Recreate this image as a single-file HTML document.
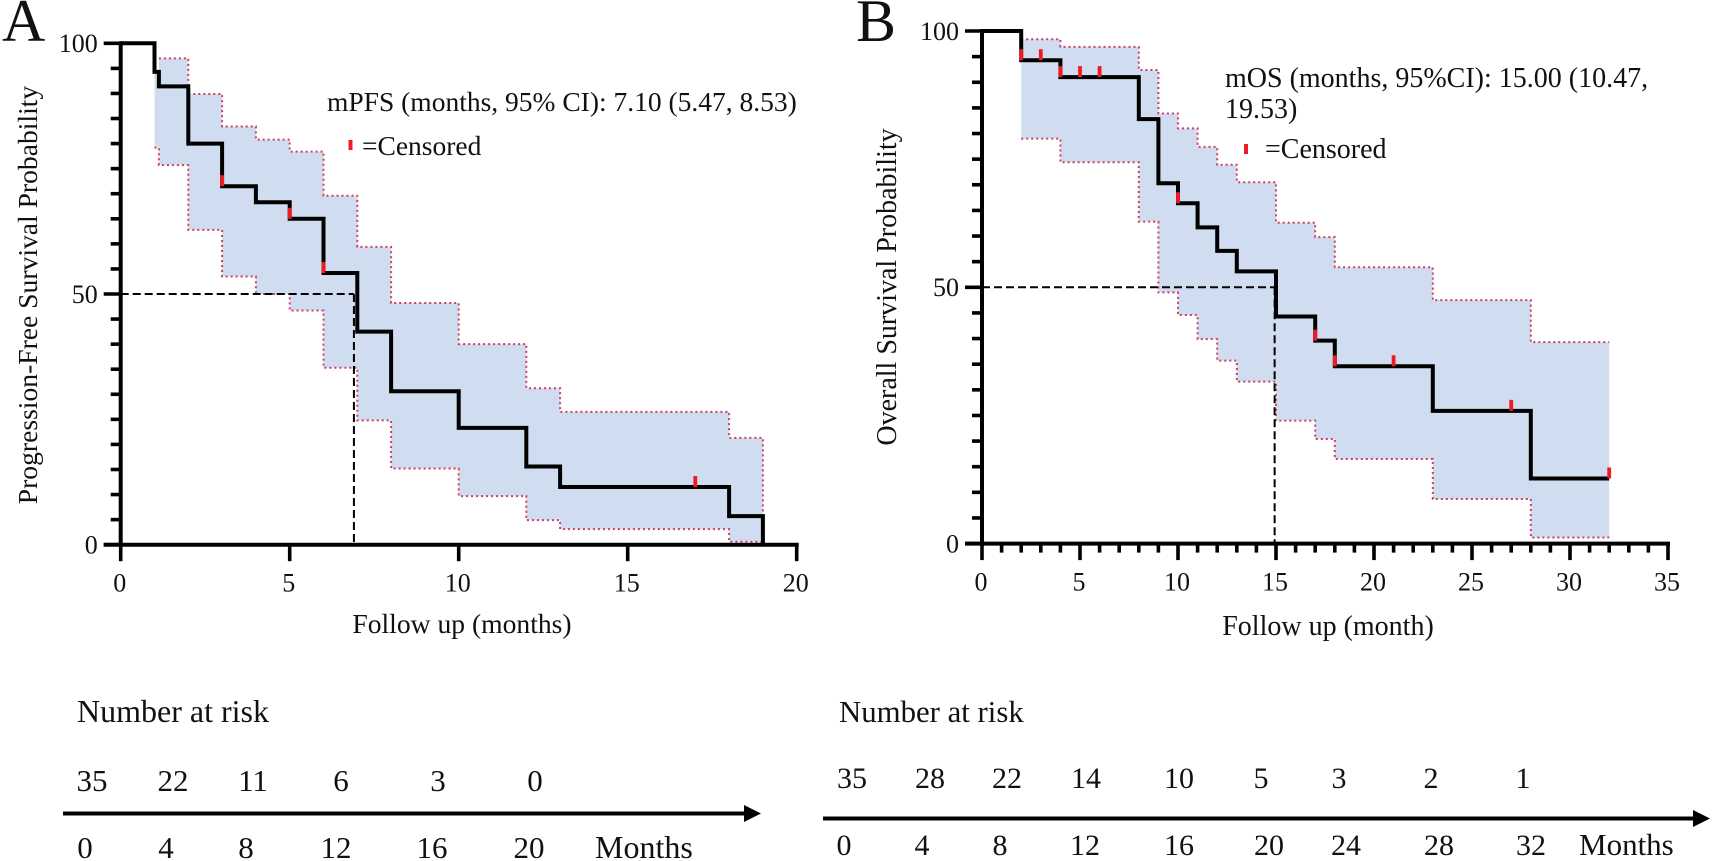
<!DOCTYPE html>
<html lang="en">
<head>
<meta charset="utf-8">
<title>Kaplan-Meier survival curves</title>
<style>
html,body{margin:0;padding:0;background:#fff;width:1713px;height:861px;overflow:hidden}
svg{display:block}
text{font-family:"Liberation Serif","Times New Roman",serif;fill:#111;font-size:27.5px}
</style>
</head>
<body>
<svg id="figure" width="1713" height="861" viewBox="0 0 1713 861" xmlns="http://www.w3.org/2000/svg">
  <rect x="0" y="0" width="1713" height="861" fill="#fff"/>
  <text x="2" y="41" style="font-size:60px">A</text>
  <text x="856" y="41" style="font-size:60px">B</text>
  <g id="panel-a"></g>
  <g id="panel-b"></g>

  <text x="327" y="111">mPFS (months, 95% CI): 7.10 (5.47, 8.53)</text>
  <rect x="348.5" y="140" width="4" height="10" fill="#ed1c24"/>
  <text x="362" y="155">=Censored</text>
  <text x="1225" y="87" style="font-size:28px">mOS (months, 95%CI): 15.00 (10.47,</text>
  <text x="1225" y="118" style="font-size:28px">19.53)</text>
  <rect x="1244" y="144" width="4" height="10" fill="#ed1c24"/>
  <text x="1265" y="158" style="font-size:28px">=Censored</text>

  <g style="font-size:31px">
    <text x="77" y="722" style="font-size:32px">Number at risk</text>
    <g text-anchor="middle">
      <text x="92" y="791" style="font-size:31px">35</text>
      <text x="173" y="791" style="font-size:31px">22</text>
      <text x="253" y="791" style="font-size:31px">11</text>
      <text x="341" y="791" style="font-size:31px">6</text>
      <text x="438" y="791" style="font-size:31px">3</text>
      <text x="535" y="791" style="font-size:31px">0</text>
    </g>
    <line x1="63" y1="813.5" x2="746" y2="813.5" stroke="#000" stroke-width="4"/>
    <polygon points="744,805 761,813.5 744,822" fill="#000"/>
    <g text-anchor="middle">
      <text x="85" y="858" style="font-size:31px">0</text>
      <text x="166" y="858" style="font-size:31px">4</text>
      <text x="246" y="858" style="font-size:31px">8</text>
      <text x="336" y="858" style="font-size:31px">12</text>
      <text x="432" y="858" style="font-size:31px">16</text>
      <text x="529" y="858" style="font-size:31px">20</text>
    </g>
    <text x="595" y="858" style="font-size:32px">Months</text>
  </g>

  <g>
    <text x="839" y="722" style="font-size:30.8px">Number at risk</text>
    <g text-anchor="middle">
      <text x="852" y="788" style="font-size:30px">35</text>
      <text x="930" y="788" style="font-size:30px">28</text>
      <text x="1007" y="788" style="font-size:30px">22</text>
      <text x="1086" y="788" style="font-size:30px">14</text>
      <text x="1179" y="788" style="font-size:30px">10</text>
      <text x="1261" y="788" style="font-size:30px">5</text>
      <text x="1339" y="788" style="font-size:30px">3</text>
      <text x="1431" y="788" style="font-size:30px">2</text>
      <text x="1523" y="788" style="font-size:30px">1</text>
    </g>
    <line x1="823" y1="818.5" x2="1695" y2="818.5" stroke="#000" stroke-width="4"/>
    <polygon points="1693,810 1710,818.5 1693,827" fill="#000"/>
    <g text-anchor="middle">
      <text x="844" y="855" style="font-size:30px">0</text>
      <text x="922" y="855" style="font-size:30px">4</text>
      <text x="1000" y="855" style="font-size:30px">8</text>
      <text x="1085" y="855" style="font-size:30px">12</text>
      <text x="1179" y="855" style="font-size:30px">16</text>
      <text x="1269" y="855" style="font-size:30px">20</text>
      <text x="1346" y="855" style="font-size:30px">24</text>
      <text x="1439" y="855" style="font-size:30px">28</text>
      <text x="1531" y="855" style="font-size:30px">32</text>
    </g>
    <text x="1579" y="855" style="font-size:31px">Months</text>
  </g>
</svg>
<script>
// Panel A: progression-free survival
const stepTimesA = [0,1,1.13,2,3,4,5,6,7,8,10,12,13,18,19];
const survivalA = [100,94.3,91.4,80,71.5,68.3,65,54.2,42.5,30.6,23.3,15.6,11.5,5.7];
const upperTimesA = [1.13,2,3,4,5,6,7,8,10,12,13,18,19];
const upperA = [97,89.9,83.4,80.8,78.4,69.6,59.4,48.2,40,31.2,26.5,21.3];
const lowerTimesA = [1,1.13,2,3,4,5,6,7,8,10,12,13,18,19];
const lowerA = [79.2,75.7,62.8,53.5,50,46.7,35.3,24.8,15.2,9.7,4.9,3.1,0.6];
const censorTimesA = [3,5,6,17];
const medianTimeA = 6.9;
const xTicksA = [0,5,10,15,20];

// Panel B: overall survival
const stepTimesB = [0,2,4,8,9,10,11,12,13,15,17,18,23,28,32];
const survivalB = [100,94.3,91,82.8,70.3,66.4,61.7,57.1,53.1,44.3,39.6,34.6,25.9,12.7];
const ciTimesB = [2,4,8,9,10,11,12,13,15,17,18,23,28,32];
const upperB = [98.4,96.9,92.4,83.9,81,77.4,73.9,70.5,62.6,59.8,53.9,47.5,39.3];
const lowerB = [79,74.4,62.8,49,44.6,39.9,35.7,31.6,24,20.4,16.5,8.7,1.2];
const censorTimesB = [2,3,4,5,6,10,17,18,21,27,32];
const medianTimeB = 14.93;
const xTicksB = [0,5,10,15,20,25,30,35];

const yTicks = [0,50,100];
const minorYStep = 5;
const medianSurvival = 50;

const NS = 'http://www.w3.org/2000/svg';
function mk(parent, tag, attrs, content) {
  const el = document.createElementNS(NS, tag);
  for (const k in attrs) el.setAttribute(k, attrs[k]);
  if (content !== undefined) el.textContent = content;
  parent.appendChild(el);
  return el;
}
function stepPath(times, vals, sx, sy, tail) {
  let d = 'M' + sx(times[0]) + ' ' + sy(vals[0]);
  for (let i = 0; i < vals.length; i++) {
    d += ' L' + sx(times[i + 1]) + ' ' + sy(vals[i]);
    if (i + 1 < vals.length) d += ' L' + sx(times[i + 1]) + ' ' + sy(vals[i + 1]);
  }
  if (tail !== undefined) d += ' L' + sx(times[vals.length]) + ' ' + sy(tail);
  return d;
}
function stepValue(times, vals, t) {
  let i = 0;
  while (i < vals.length - 1 && times[i + 1] <= t) i++;
  return vals[i];
}

function drawPanel(cfg) {
  const root = document.getElementById(cfg.id);
  const sx = t => cfg.x0 + t * cfg.pxPerMonth;
  const sy = v => cfg.y0 - v * cfg.pxPerUnit;
  const xMax = cfg.xTicks[cfg.xTicks.length - 1];

  // confidence band fill
  const band = stepPath(cfg.upperTimes, cfg.upper, sx, sy);
  const rev = [];
  for (let i = cfg.lower.length - 1; i >= 0; i--) {
    rev.push('L' + sx(cfg.lowerTimes[i + 1]) + ' ' + sy(cfg.lower[i]));
    rev.push('L' + sx(cfg.lowerTimes[i]) + ' ' + sy(cfg.lower[i]));
  }
  const joinValue = stepValue(cfg.stepTimes, cfg.survival, cfg.lowerTimes[0]);
  rev.push('L' + sx(cfg.lowerTimes[0]) + ' ' + sy(joinValue));
  rev.push('L' + sx(cfg.upperTimes[0]) + ' ' + sy(joinValue));
  const fill = mk(root, 'path', {d: band + ' ' + rev.join(' ') + ' Z', fill: '#d0ddf0', stroke: 'none'});
  
  

  const up = mk(root, 'path', {d: stepPath(cfg.upperTimes, cfg.upper, sx, sy, cfg.closeBand ? 0 : undefined), fill: 'none', stroke: '#cf3f60', 'stroke-width': 2, 'stroke-dasharray': '2 3'});
  
  

  const lo = mk(root, 'path', {d: stepPath(cfg.lowerTimes, cfg.lower, sx, sy), fill: 'none', stroke: '#cf3f60', 'stroke-width': 2, 'stroke-dasharray': '2 3'});
  
  

  // median guide lines
  const mh = mk(root, 'line', {x1: sx(0), y1: sy(medianSurvival), x2: sx(cfg.medianTime), y2: sy(medianSurvival), stroke: '#000', 'stroke-width': 2, 'stroke-dasharray': '8 4'});
  
  

  const mv = mk(root, 'line', {x1: sx(cfg.medianTime), y1: sy(medianSurvival), x2: sx(cfg.medianTime), y2: sy(0), stroke: '#000', 'stroke-width': 2, 'stroke-dasharray': '8 4'});
  
  

  // survival curve
  const curve = mk(root, 'path', {d: stepPath(cfg.stepTimes, cfg.survival, sx, sy,
    cfg.dropToZero ? 0 : undefined), fill: 'none', stroke: '#000', 'stroke-width': 4, 'stroke-linejoin': 'miter'});
  
  

  // censor marks
  cfg.censorTimes.forEach(t => {
    const v = stepValue(cfg.stepTimes, cfg.survival, t);
    const m = mk(root, 'rect', {x: sx(t) - 1.9, y: sy(v) - 11, width: 3.8, height: 11, fill: '#ed1c24'});
    
    
  });

  // y axis
  const yAxis = mk(root, 'line', {x1: sx(0), y1: sy(100) - 2, x2: sx(0), y2: sy(0) + 2, stroke: '#000', 'stroke-width': 4});
  
  

  for (let v = 0; v <= 100; v += minorYStep) {
    const major = yTicks.includes(v);
    const t = mk(root, 'line', {x1: sx(0) - (major ? 17 : 10), y1: sy(v), x2: sx(0), y2: sy(v), stroke: '#000', 'stroke-width': 3.6});
    
    
  }
  yTicks.forEach(v => {
    const l = mk(root, 'text', {x: sx(0) - 23, y: sy(v) + 8.8, 'text-anchor': 'end', style: 'font-size:26px'}, String(v));
    
    
  });

  // x axis
  const xAxis = mk(root, 'line', {x1: sx(0) - 17, y1: sy(0), x2: sx(xMax) + 2, y2: sy(0), stroke: '#000', 'stroke-width': 4});
  
  

  if (cfg.minorX) {
    for (let t = 0; t <= xMax; t++) {
      if (cfg.xTicks.includes(t)) continue;
      const m = mk(root, 'line', {x1: sx(t), y1: sy(0), x2: sx(t), y2: sy(0) + 9, stroke: '#000', 'stroke-width': 3.6});
      
      
    }
  }
  cfg.xTicks.forEach(t => {
    const m = mk(root, 'line', {x1: sx(t), y1: sy(0), x2: sx(t), y2: sy(0) + 16.5, stroke: '#000', 'stroke-width': 3.6});
    
    
    const l = mk(root, 'text', {x: sx(t) - 1, y: sy(0) + 47, 'text-anchor': 'middle', style: 'font-size:26px'}, String(t));
    
    
  });

  // titles
  const xt = mk(root, 'text', {x: cfg.xTitleX, y: cfg.xTitleY, 'text-anchor': 'middle', style: 'font-size:' + cfg.titleSize + 'px'}, cfg.xTitle);
  
  

  const yt = mk(root, 'text', {x: 0, y: 0, 'text-anchor': 'middle', style: 'font-size:' + cfg.titleSize + 'px', transform: 'translate(' + cfg.yTitleX + ' ' + cfg.yTitleY + ') rotate(-90)'}, cfg.yTitle);
  
  
}

drawPanel({
  id: 'panel-a', x0: 120.7, y0: 544.7, pxPerMonth: 33.8, pxPerUnit: 5.014,
  stepTimes: stepTimesA, survival: survivalA,
  upperTimes: upperTimesA, upper: upperA, lowerTimes: lowerTimesA, lower: lowerA,
  censorTimes: censorTimesA, medianTime: medianTimeA, xTicks: xTicksA,
  minorX: false, closeBand: true, dropToZero: true, titleSize: 27.6,
  xTitle: 'Follow up (months)', xTitleX: 462, xTitleY: 633,
  yTitle: 'Progression-Free Survival Probability', yTitleX: 37, yTitleY: 295
});
drawPanel({
  id: 'panel-b', x0: 982, y0: 543.6, pxPerMonth: 19.6, pxPerUnit: 5.126,
  stepTimes: stepTimesB, survival: survivalB,
  upperTimes: ciTimesB, upper: upperB, lowerTimes: ciTimesB, lower: lowerB,
  censorTimes: censorTimesB, medianTime: medianTimeB, xTicks: xTicksB,
  minorX: true, closeBand: false, dropToZero: false, titleSize: 28,
  xTitle: 'Follow up (month)', xTitleX: 1328, xTitleY: 635,
  yTitle: 'Overall Survival Probability', yTitleX: 896, yTitleY: 287
});
</script>
</body>
</html>
